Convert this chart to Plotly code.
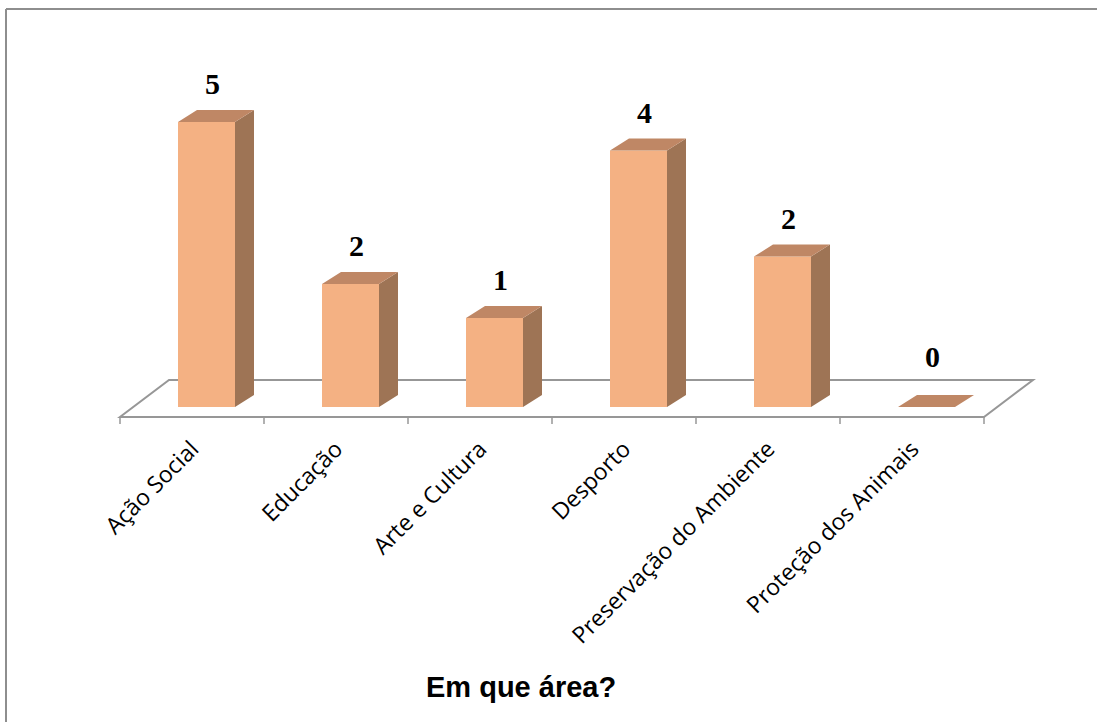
import plotly.graph_objects as go

# ---------------- data ----------------
categories = ["Ação Social", "Educação", "Arte e Cultura", "Desporto",
              "Preservação do Ambiente", "Proteção dos Animais"]
value_labels = [5, 2, 1, 4, 2, 0]                 # numbers printed above the bars
bar_heights = [5.0, 2.16, 1.56, 4.50, 2.64, 0.0]  # drawn heights
axis_title = "Em que área?"

# ---------------- style / geometry ----------------
FRONT = "#F4B183"
TOP = "#BF8765"
SIDE = "#9E7455"
LINE = "#979797"

W, H = 1097, 722
CAT_PX = 144.0          # pixels per category
UNIT_PX = 57.0          # pixels per value unit
CENTER0_PX = 192.0      # pixel of first category centre
ZERO_PX = 407.0         # pixel of value 0
ML, MR, MT, MB = 106, 55, 50, 292

x_lo = (ML - CENTER0_PX) / CAT_PX
x_hi = (W - MR - CENTER0_PX) / CAT_PX
y_hi = (ZERO_PX - MT) / UNIT_PX
y_lo = -((H - MB) - ZERO_PX) / UNIT_PX

BAR_W = 57 / CAT_PX
BAR_OFF = -14 / CAT_PX
DX = 19 / CAT_PX
DY = 12 / UNIT_PX

FLOOR_FRONT = -10 / UNIT_PX
FLOOR_BACK = 27 / UNIT_PX
FLOOR_SHIFT = 49 / CAT_PX
TICK_LEN = 7 / UNIT_PX

n = len(categories)
xs = list(range(n))


def paper_x(px):
    return (px - ML) / (W - ML - MR)


def paper_y(py):
    return ((H - MB) - py) / (H - MT - MB)


fig = go.Figure()

# front faces
fig.add_trace(go.Bar(
    x=xs, y=bar_heights, width=BAR_W, offset=BAR_OFF,
    marker=dict(color=FRONT, line=dict(width=0)),
    hoverinfo="skip", showlegend=False,
))

# side and top faces
side_x, side_y, top_x, top_y = [], [], [], []
for i, h in zip(xs, bar_heights):
    left = i + BAR_OFF
    right = left + BAR_W
    if h > 0:
        side_x += [right, right, right + DX, right + DX, right, None]
        side_y += [0, h, h + DY, DY, 0, None]
    top_x += [left, right, right + DX, left + DX, left, None]
    top_y += [h, h, h + DY, h + DY, h, None]

fig.add_trace(go.Scatter(x=side_x, y=side_y, mode="lines", fill="toself",
                         fillcolor=SIDE, line=dict(width=0, color=SIDE),
                         hoverinfo="skip", showlegend=False))
fig.add_trace(go.Scatter(x=top_x, y=top_y, mode="lines", fill="toself",
                         fillcolor=TOP, line=dict(width=0, color=TOP),
                         hoverinfo="skip", showlegend=False))

# floor (below the bars)
fx0, fx1 = -0.5, n - 0.5
floor_path = (f"M {fx0},{FLOOR_FRONT} L {fx1},{FLOOR_FRONT} "
              f"L {fx1 + FLOOR_SHIFT},{FLOOR_BACK} L {fx0 + FLOOR_SHIFT},{FLOOR_BACK} Z")
shapes = [dict(type="path", path=floor_path, xref="x", yref="y", layer="below",
               line=dict(color=LINE, width=2), fillcolor="rgba(0,0,0,0)")]
for k in range(n + 1):
    bx = k - 0.5
    shapes.append(dict(type="line", xref="x", yref="y", layer="below",
                       x0=bx, x1=bx, y0=FLOOR_FRONT, y1=FLOOR_FRONT - TICK_LEN,
                       line=dict(color=LINE, width=1.5)))

# outer frame (top and left edges)
shapes.append(dict(type="line", xref="paper", yref="paper",
                   x0=paper_x(6), x1=paper_x(W), y0=paper_y(9), y1=paper_y(9),
                   line=dict(color="#8E8E8E", width=2)))
shapes.append(dict(type="line", xref="paper", yref="paper",
                   x0=paper_x(6), x1=paper_x(6), y0=paper_y(9), y1=paper_y(H),
                   line=dict(color="#8E8E8E", width=2)))

# value labels
annotations = []
for i, h, lab in zip(xs, bar_heights, value_labels):
    annotations.append(dict(
        x=i + 0.14, y=h + DY, xref="x", yref="y", text=str(lab),
        showarrow=False, xanchor="center", yanchor="bottom",
        yshift=8 if h > 0 else 20,
        font=dict(family="Liberation Serif, Times New Roman, serif", size=30,
                  color="black", weight="bold"),
    ))

annotations.append(dict(
    x=paper_x(521), y=paper_y(687), xref="paper", yref="paper", text=axis_title,
    showarrow=False, xanchor="center", yanchor="middle",
    font=dict(family="Liberation Sans, Arial, sans-serif", size=29,
              color="black", weight="bold"),
))

fig.update_layout(
    width=W, height=H,
    margin=dict(l=ML, r=MR, t=MT, b=MB, pad=0),
    paper_bgcolor="white", plot_bgcolor="white",
    showlegend=False,
    shapes=shapes, annotations=annotations,
    xaxis=dict(range=[x_lo, x_hi], tickmode="array", tickvals=xs, ticktext=categories,
               tickangle=-45, ticks="", showgrid=False, zeroline=False, showline=False,
               tickfont=dict(family="Open Sans, sans-serif", size=23, color="black"),
               fixedrange=True),
    yaxis=dict(range=[y_lo, y_hi], visible=False, fixedrange=True),
)

fig.write_html("out.html")
